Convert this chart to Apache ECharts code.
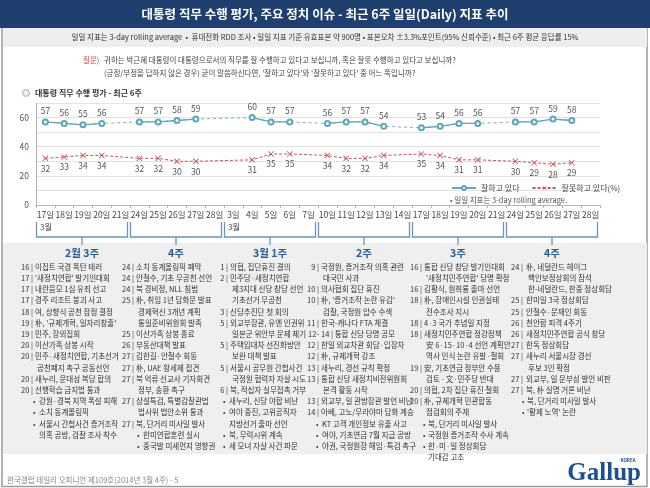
<!DOCTYPE html>
<html><head><meta charset="utf-8">
<script src="https://cdn.jsdelivr.net/npm/echarts@6/dist/echarts.min.js"></script>
<style>html,body{margin:0;padding:0;background:#fff}#c{width:650px;height:488px}</style>
</head><body><div id="c"></div>
<script>
// ---- data ----
const dates = ['02-17','02-18','02-19','02-20','02-21','02-24','02-25','02-26','02-27','02-28',
  '03-03','03-04','03-05','03-06','03-07','03-10','03-11','03-12','03-13','03-14',
  '03-17','03-18','03-19','03-20','03-21','03-24','03-25','03-26','03-27','03-28'];
const dayLabels = ['17일','18일','19일','20일','21일','24일','25일','26일','27일','28일',
  '3일','4일','5일','6일','7일','10일','11일','12일','13일','14일',
  '17일','18일','19일','20일','21일','24일','25일','26일','27일','28일'];
const approve = [57,56,55,56,null, 57,57,58,59,null, null,60,57,57,null, 56,57,57,54,null, 53,54,56,56,null, 57,57,59,58,null];
const disapprove = [32,33,34,34,null, 32,32,30,30,null, null,31,35,35,null, 34,32,32,34,null, 35,34,31,31,null, 30,29,28,29,null];
const yTicks = [0,20,40,60];
const monthMarks = [[0,'3월'],[10,'3월']];
const weeks = ['2월 3주','4주','3월 1주','2주','3주','4주'];
const events1 = ['16|이집트 국경 폭탄 테러','17|\'새정치연합\' 발기인대회','17|내란음모 1심 유죄 선고','17|경주 리조트 붕괴 사고',
  '18|여, 상향식 공천 잠정 결정','19|朴, \'규제개혁, 일자리창출\'','19|민주, 장외집회','20|이산가족 상봉 시작',
  '20|민주·새정치연합, 기초선거','+공천폐지 촉구 공동선언','20|새누리, 문대성 복당 합의','20|선행학습 금지법 통과',
  '•강원·경북 지역 폭설 피해','•소치 동계올림픽','•서울시 간첩사건 증거조작','~의혹 공방, 검찰 조사 착수'];
const events2 = ['24|소치 동계올림픽 폐막','24|안철수, 기초 무공천 선언','24|북 경비정, NLL 침범','25|朴, 취임 1년 담화문 발표',
  '+경제혁신 3개년 계획','+통일준비위원회 발족','25|이산가족 상봉 종료','26|부동산대책 발표','27|김한길·안철수 회동',
  '27|朴, UAE 왕세제 접견','27|북 억류 선교사 기자회견','+정부, 송환 촉구','27|상설특검, 특별감찰관법','+법사위 법안소위 통과',
  '27|북, 단거리 미사일 발사','•한미연합훈련 실시','•중국발 미세먼지 영향권'];
const events3 = ['1|의협, 집단휴진 결의','2|민주당·새정치연합','+제3지대 신당 창당 선언','+기초선거 무공천','3|신당추진단 첫 회의',
  '5|외교부장관, 유엔 인권위','+일본군 위안부 문제 제기','5|주택임대차 선진화방안','+보완 대책 발표','5|서울시 공무원 간첩사건',
  '+국정원 협력자 자살 시도','6|북, 적십자 실무접촉 거부','•새누리, 신당 야합 비난','•여야 중진, 고위공직자','~지방선거 출마 선언',
  '•북, 무력시위 계속','•세 모녀 자살 사건 파문'];
const events4 = ['9|국정원, 증거조작 의혹 관련','+대국민 사과','10|의사협회 집단 휴진','10|朴, \'증거조작 논란 유감\'',
  '+검찰, 국정원 압수 수색','11|한국-캐나다 FTA 체결','12-|14 | 통합 신당 당명 공모','12|한일 외교차관 회담·입장차',
  '12|朴, 규제개혁 강조','13|새누리, 경선 규칙 확정','13|통합 신당 새정치비전위원회','+본격 활동 시작','13|외교부, 일 관방장관 발언 비난',
  '14|아베, 고노/무라야마 담화 계승','•KT 고객 개인정보 유출 사고','•여야, 기초연금 7월 지급 공방','•야권, 국정원장 해임·특검 촉구'];
const events5 = ['16|통합 신당 창당 발기인대회','+\'새정치민주연합\' 당명 확정','16|김황식, 원희룡 출마 선언','18|朴, 장애인시설 인권실태',
  '+전수조사 지시','18|4·3 국가 추념일 지정','18|새정치민주연합 정강정책','+安 6·15·10·4 선언 계획안','+역사 인식 논란 유발·철회',
  '19|安, 기초연금 정부안 수용','+검토 - 文·민주당 반대','20|의협, 2차 집단 휴진 철회','20|朴, 규제개혁 민관합동','+점검회의 주재',
  '•북, 단거리 미사일 발사','•국정원 증거조작 수사 계속','•한·미·일 정상회담','~기대감 고조'];
const events6 = ['24|朴, 네덜란드 헤이그','+핵안보정상회의 참석','+한-네덜란드, 한중 정상회담','25|한미일 3국 정상회담',
  '25|안철수·문재인 회동','26|천안함 피격 4주기','26|새정치민주연합 공식 창당','27|한독 정상회담','27|새누리 서울시장 경선',
  '+후보 3인 확정','27|외교부, 일 문부성 발언 비판','27|북, 朴 실명 거론 비난','•북, 단거리 미사일 발사','•\'황제 노역\' 논란'];
const eventCols = [events1, events2, events3, events4, events5, events6];

// ---- style ----
const FF = '"Noto Sans CJK KR", sans-serif';
const TEAL = '#5ea6b8', RED = '#c25a5d', NAVY = '#1f3f6e', WEEKBLUE = '#2c5c92', BRACKET = '#6a94bb';
const colPos = [
  {nr:33, tx:35, bx:33, btx:39},
  {nr:134, tx:136, bx:137, btx:143},
  {nr:228, tx:230, bx:223, btx:229},
  {nr:319, tx:321, bx:316, btx:322},
  {nr:422, tx:424, bx:423, btx:428},
  {nr:523, tx:526, bx:522, btx:527}
];

function txt(x, y, text, o) {
  o = o || {};
  return {type:'text', x:x, y:y, z: o.z || 10, silent:true, style:{text:text, fill:o.fill||'#333',
    fontSize:o.size||8, fontFamily:o.family||FF, fontWeight:o.weight||'normal', fontStyle:o.style||'normal',
    textAlign:o.align||'left', align:o.align||'left', textVerticalAlign:'middle', verticalAlign:'middle'}};
}

const chart = echarts.init(document.getElementById('c'), null, {renderer:'canvas', width:650, height:488});
const xMark = 'path://M1,0 L5,4 L9,0 L10,1 L6,5 L10,9 L9,10 L5,6 L1,10 L0,9 L4,5 L0,1 Z';

chart.setOption({
  animation:false,
  backgroundColor:'#fff',
  textStyle:{fontFamily:FF},
  grid:{left:36, right:50, top:103, bottom:283, containLabel:false},
  xAxis:{type:'category', data:dates, boundaryGap:true,
    axisLine:{lineStyle:{color:'#b5b5b5'}},
    axisTick:{show:true, length:3, lineStyle:{color:'#b5b5b5'}},
    axisLabel:{interval:0, margin:6, fontSize:8.5, color:'#444', fontFamily:FF, formatter:(v,i)=>dayLabels[i]}},
  yAxis:{type:'value', min:0, max:70, interval:10,
    axisLine:{show:true, lineStyle:{color:'#b5b5b5'}}, axisTick:{show:false},
    axisLabel:{fontSize:8.5, color:'#555', margin:7, formatter:v=> yTicks.indexOf(v)>=0 ? String(v) : ''},
    splitLine:{lineStyle:{color:'#e2e2e2'}}},
  legend:{data:['잘하고 있다','잘못하고 있다(%)'], left:446, top:179, itemWidth:24, itemHeight:5, itemGap:12,
    textStyle:{fontSize:8, color:'#444', fontFamily:FF}},
  series:[
    {name:'gap', type:'line', data:approve, connectNulls:true, symbol:'none', silent:true, z:1,
      lineStyle:{color:TEAL, width:1, type:[3,3], opacity:0.85}},
    {name:'잘하고 있다', type:'line', data:approve, connectNulls:false, symbol:'emptyCircle', symbolSize:5, z:3,
      itemStyle:{color:TEAL, borderWidth:1}, lineStyle:{color:TEAL, width:1.3},
      label:{show:true, position:'top', distance:3, fontSize:8.5, color:'#555'}},
    {name:'잘못하고 있다(%)', type:'line', data:disapprove, connectNulls:true, symbol:xMark, symbolSize:6, z:3,
      itemStyle:{color:RED}, lineStyle:{color:RED, width:1, type:[3,2]},
      label:{show:true, position:'bottom', distance:3, fontSize:8.5, color:'#555'}}
  ]
});

// ---- decorations ----
const g = [];
g.push({type:'rect', shape:{x:2, y:0.5, width:645, height:486}, z:0, silent:true, style:{fill:'none', stroke:'#9a9a9a', lineWidth:1.5}});
g.push({type:'rect', shape:{x:0, y:0, width:650, height:28}, z:1, silent:true, style:{fill:NAVY}});
g.push(txt(325, 14, '대통령 직무 수행 평가, 주요 정치 이슈 - 최근 6주 일일(Daily) 지표 추이', {fill:'#fff', size:12.5, weight:'bold', align:'center'}));
g.push({type:'rect', shape:{x:3, y:28, width:644, height:19}, z:1, silent:true, style:{fill:'#eeeeee'}});
g.push(txt(325, 37.5, '일일 지표는 3-day rolling average  •  휴대전화 RDD 조사 • 일일 지표 기준 유효표본 약 900명 • 표본오차 ±3.3%포인트(95% 신뢰수준) • 최근 6주 평균 응답률 15%', {size:7.5, align:'center', fill:'#333'}));
g.push(txt(83, 60, '질문)', {fill:'#c0504d', size:7.5}));
g.push(txt(104, 60, '귀하는 박근혜 대통령이 대통령으로서의 직무를 잘 수행하고 있다고 보십니까, 혹은 잘못 수행하고 있다고 보십니까?', {size:7.5, fill:'#444'}));
g.push(txt(104, 73, '(긍정/부정을 답하지 않은 경우) 굳이 말씀하신다면, \'잘하고 있다\'와 \'잘못하고 있다\' 중 어느 쪽입니까?', {size:7.5, fill:'#444'}));
g.push(txt(22, 93, '◎', {size:8, fill:'#555'}));
g.push(txt(35, 93, '대통령 직무 수행 평가 - 최근 6주', {size:8, weight:'bold', fill:'#333'}));
g.push(txt(450, 200, '• 일일 지표는 3-day rolling average.', {size:7.5, fill:'#555'}));
g.push({type:'rect', shape:{x:3, y:243, width:644, height:211}, z:0, silent:true, style:{fill:'#efefef'}});

const px = i => chart.convertToPixel({xAxisIndex:0}, dates[i]);
const bw = px(1) - px(0);
weeks.forEach((w, k) => {
  const l = px(k*5) - bw/2 + 0.5, r = px(k*5+4) + bw/2 - 2.5, c = (l + r)/2;
  g.push({type:'polyline', z:5, silent:true, shape:{points:[[l,222],[l,237],[r,237],[r,222]]}, style:{stroke:BRACKET, lineWidth:1.3, fill:'none'}});
  g.push({type:'line', z:5, silent:true, shape:{x1:c, y1:237, x2:c, y2:245}, style:{stroke:BRACKET, lineWidth:1.3}});
  g.push(txt(c, 253, w, {size:10.5, weight:'bold', fill:WEEKBLUE, align:'center'}));
});
monthMarks.forEach(([i, t]) => {
  g.push(txt(px(i) - bw/2 + 4, 227, t, {size:8, fill:'#444'}));
});

eventCols.forEach((lines, ci) => {
  const p = colPos[ci];
  lines.forEach((s, li) => {
    const y = 267 + li * 11.2;
    if (s[0] === '•') {
      g.push(txt(p.bx, y, '•', {size:7.5, fill:'#444'}));
      g.push(txt(p.btx, y, s.slice(1), {size:7.5}));
    } else if (s[0] === '~') {
      g.push(txt(p.btx, y, s.slice(1), {size:7.5}));
    } else if (s[0] === '+') {
      g.push(txt(p.tx + 2, y, s.slice(1), {size:7.5}));
    } else {
      const k = s.indexOf('|');
      const n = s.slice(0, k), t = s.slice(k+1);
      g.push(txt(p.nr, y, n.endsWith('-') ? n : n + ' |', {size:7.5, align:'right'}));
      g.push(txt(p.tx, y, t, {size:7.5}));
    }
  });
});

g.push(txt(7, 480, '한국갤럽 데일리 오피니언 제109호(2014년 3월 4주) - 5', {size:7.5, fill:'#888'}));
g.push(txt(641, 474, 'Gallup', {size:25, weight:'bold', fill:'#1d4f91', align:'right', family:'"Liberation Serif", serif'}));
g.push(txt(628, 460, 'KOREA', {size:4.5, weight:'bold', fill:'#1d4f91', align:'center'}));

chart.setOption({graphic:{elements:g}});
</script>
</body></html>
